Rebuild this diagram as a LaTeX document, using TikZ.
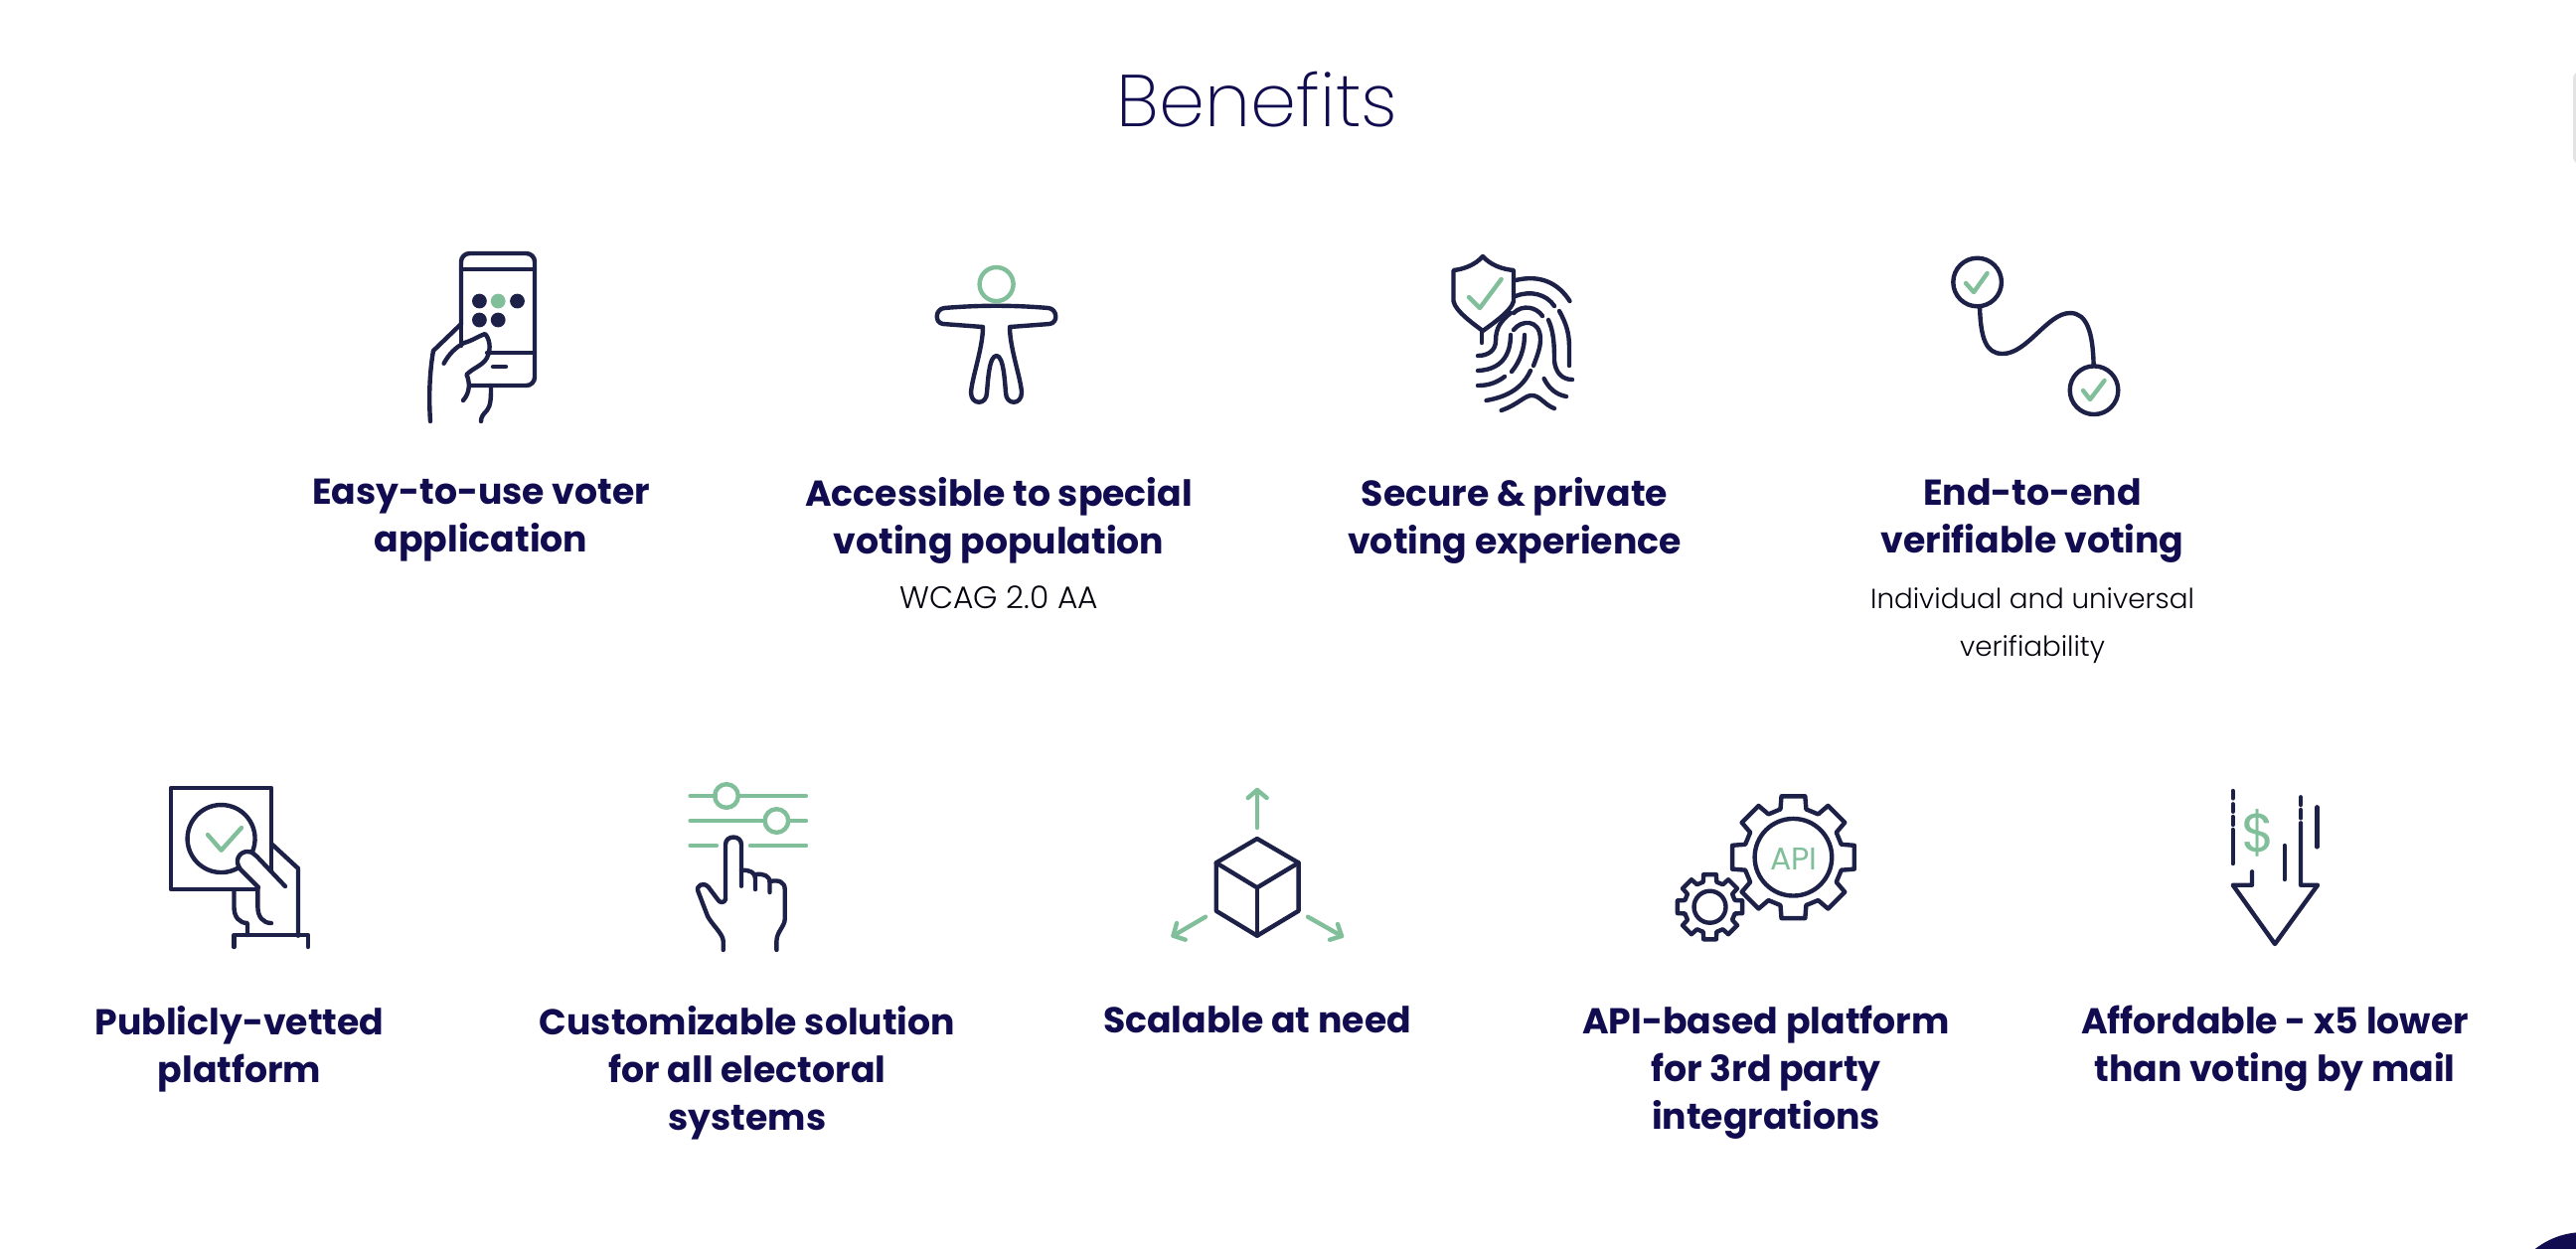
\documentclass[tikz,border=0pt]{standalone}
\usepackage{fontspec}
\usetikzlibrary{arrows.meta, calc}
\newfontfamily\headfont{Poppins}
\newfontfamily\lightfont{Poppins Light}
\newfontfamily\thinfont{Poppins ExtraLight}
\definecolor{navytext}{HTML}{100C4F}
\definecolor{navyicon}{HTML}{1E2147}
\definecolor{greenicon}{HTML}{80BF9A}
\tikzset{
	navyline/.style={draw=navyicon, line width=1.25pt},
	greenline/.style={draw=greenicon, line width=1.25pt},
	headtext/.style={inner sep=0pt, anchor=north, align=center, text=navytext,
		font=\headfont\bfseries\fontsize{10.3}{13.65}\selectfont,
		execute at begin node={\rule{0pt}{11pt}}},
	subtext/.style={inner sep=0pt, anchor=north, align=center, text=black!85!navytext,
		font=\lightfont\fontsize{7.9}{13.65}\selectfont},
}
% one gear: centre, outer radius, root radius, half angle at tip, half angle at root
\newcommand{\gearoutline}[5]{
	\draw[navyline, shift={(#1)}] (-#5:#3)
	foreach \a in {0,45,...,315} {
		-- (\a-#5:#3) -- (\a-#4:#2) -- (\a+#4:#2) -- (\a+#5:#3)
	} -- cycle;
}

\begin{document}
\begin{tikzpicture}[x=0.01cm, y=-0.01cm, line cap=round, line join=round]
	\clip (0,0) rectangle (2592,1256);
	\fill[white] (0,0) rectangle (2592,1256);
	
	%========================
	% Page furniture
	%========================
	\fill[gray!22, rounded corners=2pt] (2589,72) rectangle (2600,165);
	\fill[navytext] (2600,1320) circle (80);
	
	\node[inner sep=0pt, text=navytext, font=\thinfont\fontsize{21}{26}\selectfont] (title) at (1265,100) {Benefits};
	
	%========================
	% Top row: labels
	%========================
	\node[headtext] (voter) at (484,481) {Easy-to-use voter\\application};
	\node[headtext] (access) at (1005,479.5) {Accessible to special\\voting population};
	\node[subtext, font=\lightfont\fontsize{8.9}{13.65}\selectfont] (wcag) at (1005,589) {WCAG 2.0 AA};
	\node[headtext] (secure) at (1524,479.5) {Secure \& private\\voting experience};
	\node[headtext] (verify) at (2045,481) {End-to-end\\verifiable voting};
	\node[subtext] (indiv) at (2045,590.5) {Individual and universal\\verifiability};
	
	%========================
	% Bottom row: labels
	%========================
	\node[headtext] (vetted) at (241,1011.5) {Publicly-vetted\\platform};
	\node[headtext] (custom) at (752,1011.5) {Customizable solution\\for all electoral\\systems};
	\node[headtext] (scale) at (1265,1000) {Scalable at need};
	\node[headtext] (apibased) at (1777,1011.5) {API-based platform\\for 3rd party\\integrations};
	\node[headtext] (afford) at (2289,1011.5) {Affordable - x5 lower\\than voting by mail};
	
	%========================
	% Phone in hand
	%========================
	\begin{scope}
		\draw[navyline, rounded corners=2.4pt] (464,326) -- (464,255) -- (538,255) -- (538,388) -- (474,388);
		\draw[navyline] (464,271) -- (538,271);
		\draw[navyline] (464,326) -- (464,348);
		\draw[navyline] (490,355) -- (538,355);
		\draw[navyline] (496,369) -- (509,369);
		\foreach \px/\py in {482.4/303, 520.5/303, 482.4/322, 501.2/322}
			\fill[navyicon] (\px,\py) circle (7.4);
		\fill[greenicon] (501.2,303) circle (7.4);
		% hand
		\draw[navyline] (433,424) .. controls (431,395) and (433,370) .. (436,353) -- (464,326);
		\draw[navyline] (446.6,365.7) .. controls (452,356) and (458,350) .. (467,345)
			.. controls (475,343) and (482,338) .. (488,336)
			.. controls (492,340) and (495,350) .. (490,360) .. controls (486,368) and (476,370) .. (469.5,377)
			.. controls (473,385) and (473,395) .. (466,403);
		\draw[navyline] (494,388) .. controls (494,400) and (494,408) .. (490,413) .. controls (486,417) and (484,420) .. (484,424);
	\end{scope}
	
	%========================
	% Accessibility figure
	%========================
	\begin{scope}
		\draw[greenline] (1002.6,286) circle (17);
		\draw[navyline] (950,310) .. controls (985,307) and (1020,307) .. (1055,310)
			.. controls (1064,311) and (1065,325) .. (1056,326) -- (1016,329)
			.. controls (1016,350) and (1027,380) .. (1028,395)
			.. controls (1028,408) and (1012,408) .. (1012,395)
			.. controls (1011,385) and (1010,358) .. (1002.6,358)
			.. controls (995,358) and (994,385) .. (993,395)
			.. controls (993,408) and (977,408) .. (977,395)
			.. controls (978,380) and (989,350) .. (989,329) -- (949,326)
			.. controls (940,325) and (941,311) .. (950,310) -- cycle;
	\end{scope}
	
	%========================
	% Shield and fingerprint
	%========================
	\begin{scope}
		\draw[navyline] (1492,258) .. controls (1484,267) and (1472,271) .. (1462.5,272) -- (1462.5,303)
			.. controls (1464,313) and (1484,327) .. (1492,333)
			.. controls (1500,327) and (1521,313) .. (1523,303) -- (1523,272)
			.. controls (1512,271) and (1500,267) .. (1492,258) -- cycle;
		\draw[greenline] (1478,299) -- (1489,310) -- (1510.6,281);
		\draw[navyline] (1525,282) .. controls (1550,276) and (1568,285) .. (1579.5,303);
		\draw[navyline] (1525,298) .. controls (1540,292) and (1556,296) .. (1564,308);
		\draw[navyline] (1569,313) .. controls (1576,326) and (1579,335) .. (1579,350) -- (1579,368);
		\draw[navyline] (1523,315) .. controls (1532,306) and (1546,309) .. (1552,318);
		\draw[navyline] (1558,322) .. controls (1563,333) and (1564,345) .. (1564,363) .. controls (1565,375) and (1572,382) .. (1582,382);
		\draw[navyline] (1491,333) -- (1491,345);
		\draw[navyline] (1520,315) .. controls (1510,323) and (1505,330) .. (1505,343) .. controls (1505,352) and (1498,358) .. (1487,358);
		\draw[navyline] (1523,332) .. controls (1530,322) and (1550,320) .. (1550,342) .. controls (1550,350) and (1546,360) .. (1543,368);
		\draw[navyline] (1520,337) .. controls (1520,358) and (1510,372) .. (1487,373);
		\draw[navyline] (1534,337) .. controls (1534,350) and (1530,363) .. (1521,374);
		\draw[navyline] (1514,379) .. controls (1506,385) and (1498,388) .. (1487,388);
		\draw[navyline] (1540,373) .. controls (1532,390) and (1518,399) .. (1495.5,403);
		\draw[navyline] (1553.6,381) .. controls (1558,390) and (1565,397) .. (1576,399);
		\draw[navyline] (1510.6,413) .. controls (1528,407) and (1535,397) .. (1542,398) .. controls (1549,398) and (1555,408) .. (1564,411);
	\end{scope}
	
	%========================
	% Verified path
	%========================
	\begin{scope}
		\draw[navyline] (1989.6,284) circle (24.3);
		\draw[navyline] (2107,392.7) circle (24.3);
		\draw[greenline] (1978,285) -- (1986,294) -- (1999.5,275);
		\draw[greenline] (2096,393) -- (2103,402) -- (2117.5,383);
		\draw[navyline] (1992,309) .. controls (1993,340) and (1998,356) .. (2015,356)
			.. controls (2040,356) and (2060,315) .. (2083,315)
			.. controls (2100,315) and (2106,335) .. (2106.6,368);
	\end{scope}
	
	%========================
	% Ballot in hand
	%========================
	\begin{scope}
		\draw[navyline] (273,877) -- (273,793) -- (172,793) -- (172,895) -- (259,895);
		\draw[navyline] (222.6,844) ++(58:34) arc[start angle=58, end angle=384, radius=34];
		\draw[greenline] (209,840) -- (222.6,855.7) -- (243,833);
		\draw[navyline] (260,893) -- (242,875) .. controls (235,866) and (241,857) .. (249,857)
			.. controls (254,857) and (256,860) .. (258.5,862) -- (287,892);
		\draw[navyline] (273,849) -- (300,874) -- (300,941.7);
		\draw[navyline] (259.4,893) -- (259.4,913) .. controls (259.4,923) and (265,929) .. (273,929);
		\draw[navyline] (235.5,896) -- (235.5,913) .. controls (235.5,923) and (241,929) .. (249,929) -- (249,941);
		\draw[navyline] (235.5,953) -- (235.5,941) -- (310,941) -- (310,953);
	\end{scope}
	
	%========================
	% Sliders and pointing hand
	%========================
	\begin{scope}
		\draw[greenline] (694.6,801) -- (720,801) (743,801) -- (811,801);
		\draw[greenline] (694.6,826) -- (769,826) (793,826) -- (811,826);
		\draw[greenline] (694.6,851) -- (721,851) (755,851) -- (811,851);
		\draw[greenline] (731,801) circle (11.8);
		\draw[greenline] (781.4,826) circle (11.8);
		\draw[navyline] (730,905) -- (730,850) .. controls (730,840) and (746,840) .. (746,850) -- (746,891.7);
		\draw[navyline] (746,876) .. controls (754,875) and (760,878) .. (760,884) -- (760,895);
		\draw[navyline] (760,880) .. controls (768,879) and (774.5,881) .. (774.5,888) -- (774.5,898);
		\draw[navyline] (775,887) .. controls (784,885) and (789.7,888) .. (789.7,895) -- (789.7,925)
			.. controls (789.7,932) and (781.4,938) .. (781.4,947) -- (781.4,956);
		\draw[navyline] (730,905) .. controls (729,909) and (724,909) .. (722,905) -- (713,893)
			.. controls (708,887) and (700,891) .. (702.4,897) -- (712,922)
			.. controls (716,930) and (727.7,940) .. (727.7,947) -- (727.7,956);
	\end{scope}
	
	%========================
	% Cube and arrows
	%========================
	\begin{scope}
		\draw[navyline] (1264.9,844) -- (1306.6,868.3) -- (1306.6,916.7) -- (1264.9,941.7)
			-- (1223.7,916.7) -- (1223.7,868.3) -- cycle;
		\draw[navyline] (1223.7,868.3) -- (1264.9,893.3) -- (1306.6,868.3);
		\draw[navyline] (1264.9,893.3) -- (1264.9,941.7);
		\draw[greenline] (1264.9,833) -- (1264.9,795);
		\draw[greenline] (1255.7,803) -- (1264.9,795) -- (1274.6,803);
		\draw[greenline] (1213,922.7) -- (1180.5,941.7);
		\draw[greenline] (1184,929) -- (1180.5,941.7) -- (1192.7,945.7);
		\draw[greenline] (1316,922.7) -- (1350,942);
		\draw[greenline] (1346,930) -- (1350,942) -- (1338,945.7);
	\end{scope}
	
	%========================
	% Gears
	%========================
	\gearoutline{1804.4,862.7}{62.5}{50}{11}{15}
	\draw[navyline] (1804.4,862.7) circle (38.8);
	\node[inner sep=0pt, text=greenicon, font=\headfont\fontsize{9}{10}\selectfont] (apitag) at (1805,864) {API};
	\gearoutline{1720.5,912.7}{33.2}{26}{11}{15}
	\draw[navyline] (1720.5,912.7) circle (16);
	
	%========================
	% Falling dollar arrow
	%========================
	\begin{scope}
		\draw[navyline] (2246.7,796) -- (2246.7,803.3) (2246.7,809.3) -- (2246.7,816.7)
			(2246.7,822) -- (2246.7,830) (2246.7,835) -- (2246.7,869);
		\draw[navyline] (2315,802.3) -- (2315,810) (2315,815) -- (2315,823.3);
		\draw[navyline] (2298.7,851) -- (2298.7,885);
		\draw[navyline] (2331.3,812.3) -- (2331.3,852.3);
		\draw[navyline] (2266,877.3) -- (2266,890.7) -- (2246.7,890.7) -- (2289,950)
			-- (2332,890.7) -- (2315,890.7) -- (2315,828.3);
		\node[inner sep=0pt, text=greenicon, font=\headfont\fontsize{15.5}{18}\selectfont] (dollar) at (2272.7,838) {\$};
	\end{scope}
\end{tikzpicture}
\end{document}
